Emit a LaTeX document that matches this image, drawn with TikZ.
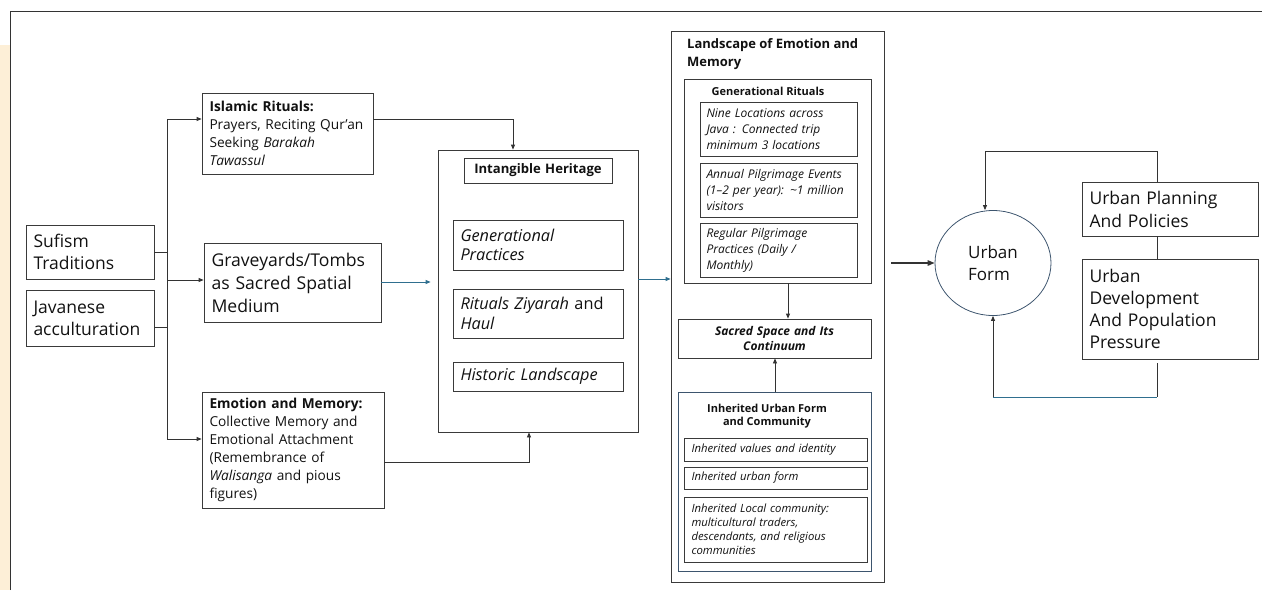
\documentclass[tikz,border=0pt]{standalone}
\usepackage{fontspec}
\setmainfont{Open Sans}
\usetikzlibrary{shapes.geometric,arrows.meta,calc}
\definecolor{boxc}{HTML}{3A3A3A}
\definecolor{linec}{HTML}{333333}
\definecolor{bluec}{HTML}{2F6F8F}
\definecolor{slatec}{HTML}{3D556E}
\definecolor{txtc}{HTML}{111111}
\definecolor{creamc}{HTML}{FDEFD7}
\newcommand{\fsz}[2]{\fontsize{#1}{#2}\selectfont}
\begin{document}
\begin{tikzpicture}[x=1pt,y=-1pt,
  box/.style={draw=boxc, line width=0.8pt, inner xsep=7.5pt, inner ysep=0pt, align=left, text=txtc},
  cbox/.style={box, align=center},
  frame/.style={draw=boxc, line width=0.8pt, inner sep=0pt},
  ln/.style={draw=linec, line width=0.8pt},
  arr/.style={ln, -{Triangle[length=5pt,width=4pt]}},
  barr/.style={draw=bluec, line width=0.8pt, -{Triangle[length=5pt,width=4pt]}},
  ttl/.style={inner sep=0pt, text=txtc}
]
\useasboundingbox (0,0) rectangle (1262,590);
% page frame and cream band
\fill[creamc] (0,45) rectangle (9.5,590);
\draw[ln] (10,590) -- (10,11) -- (1262,11);

% left sources
\node[box, minimum width=128pt, minimum height=54pt, text width=113pt, font=\fsz{17.5}{22}] (suf) at (90,252) {Sufism\\Traditions};
\node[box, minimum width=128pt, minimum height=56pt, text width=113pt, font=\fsz{17.5}{22}] (jav) at (90,318) {Javanese\\acculturation};

% middle column
\node[box, minimum width=171pt, minimum height=81pt, text width=156pt, font=\fsz{13.7}{18}] (isl) at (287.5,133.5) {\textbf{Islamic Rituals:}\\Prayers, Reciting Qur’an\\Seeking \textit{Barakah}\\\textit{Tawassul}};
\node[box, minimum width=177pt, minimum height=79pt, text width=162pt, font=\fsz{17.6}{23}] (grv) at (292.5,282.5) {Graveyards/Tombs\\as Sacred Spatial\\Medium};
\node[box, minimum width=182pt, minimum height=116pt, text width=167pt, font=\fsz{13.7}{18}] (emo) at (293,450) {\textbf{Emotion and Memory:}\\Collective Memory and\\Emotional Attachment\\(Remembrance of\\\textit{Walisanga} and pious\\figures)};

% intangible heritage
\node[frame, minimum width=200pt, minimum height=282pt] (intg) at (538,291) {};
\node[cbox, minimum width=148pt, minimum height=25pt, text width=133pt, font=\fsz{13.1}{16}\bfseries] (intt) at (538,170.5) {Intangible Heritage};
\node[box, minimum width=170pt, minimum height=50pt, text width=155pt, font=\fsz{16.3}{19.5}\itshape] (gp) at (538,245) {Generational\\Practices};
\node[box, minimum width=170pt, minimum height=49pt, text width=155pt, font=\fsz{16.3}{19.5}] (rz) at (538,313.5) {\textit{Rituals Ziyarah} and\\\textit{Haul}};
\node[box, minimum width=170pt, minimum height=29pt, text width=155pt, font=\fsz{16.3}{19.5}\itshape] (hl) at (538,376.5) {Historic Landscape};

% landscape of emotion and memory
\node[frame, minimum width=213pt, minimum height=551pt] (land) at (777.5,306.5) {};
\node[ttl, anchor=base west, align=left, font=\fsz{13}{18}\bfseries] (landt) at (687,66.5) {Landscape of Emotion and\\Memory};
\node[frame, minimum width=187pt, minimum height=204pt] (gr) at (777.5,181) {};
\node[ttl, anchor=base, font=\fsz{11}{13}\bfseries] (grt) at (768,95) {Generational Rituals};
\node[box, inner xsep=6.5pt, minimum width=157pt, minimum height=54pt, text width=144pt, font=\fsz{12}{16}\itshape] (nine) at (778.5,129) {Nine Locations across\\Java : Connected trip\\minimum 3 locations};
\node[box, inner xsep=6.5pt, minimum width=157pt, minimum height=54pt, text width=144pt, font=\fsz{12}{16}\itshape] (ann) at (778.5,190) {Annual Pilgrimage Events\\(1–2 per year): \textasciitilde1 million\\visitors};
\node[box, inner xsep=6.5pt, minimum width=157pt, minimum height=54pt, text width=144pt, font=\fsz{12}{16}\itshape] (reg) at (778.5,250) {Regular Pilgrimage\\Practices (Daily /\\Monthly)};
\node[cbox, minimum width=193pt, minimum height=39pt, text width=178pt, font=\fsz{12}{15}\bfseries\itshape] (sac) at (774.5,338.5) {Sacred Space and Its\\Continuum};
\node[draw=slatec, line width=0.8pt, inner sep=0pt, minimum width=193pt, minimum height=179pt] (inh) at (774.5,481.5) {};
\node[ttl, anchor=base, align=center, font=\fsz{11}{13.5}\bfseries] (inht) at (767,425.5) {Inherited Urban Form\\and Community};
\node[box, minimum width=183pt, minimum height=23pt, text width=168pt, font=\fsz{11.3}{14}\itshape] (iv) at (775.5,449.5) {Inherited values and identity};
\node[box, minimum width=183pt, minimum height=22pt, text width=168pt, font=\fsz{11.3}{14}\itshape] (iu) at (775.5,478) {Inherited urban form};
\node[box, minimum width=183pt, minimum height=65pt, text width=168pt, font=\fsz{11.3}{14}\itshape] (il) at (775.5,529.5) {Inherited Local community:\\multicultural traders,\\descendants, and religious\\communities};

% right side
\node[draw=slatec, line width=0.8pt, ellipse, inner sep=0pt, minimum width=116pt, minimum height=105pt, align=left, text=txtc, font=\fsz{17}{22}] (uf) at (993,263) {Urban\\Form};
\node[box, minimum width=176pt, minimum height=54pt, text width=161pt, font=\fsz{17.5}{23}] (up) at (1170,209) {Urban Planning\\And Policies};
\node[box, minimum width=176pt, minimum height=100pt, text width=161pt, font=\fsz{17.5}{22}] (ud) at (1170,309) {Urban\\Development\\And Population\\Pressure};

% helper coordinates
\coordinate (busT) at (167,119);
\coordinate (busB) at (167,439);
\coordinate (yJ) at (0,327);
\coordinate (yG) at (0,280);
\coordinate (yG2) at (0,282);
\coordinate (xI) at (513,0);
\coordinate (yE) at (0,462);
\coordinate (xE) at (529,0);
\coordinate (yL) at (0,279);
\coordinate (xS1) at (788,0);
\coordinate (xS2) at (775,0);
\coordinate (xF) at (1157,0);
\coordinate (yT) at (0,151);
\coordinate (xT) at (985,0);
\coordinate (yB) at (0,397);

% connectors left
\draw[ln] (busT) -- (busB);
\draw[ln] (suf.east) -- (suf.east -| busT);
\draw[ln] (jav.east |- yJ) -- (busT |- yJ);
\draw[arr] (busT) -- (isl.west |- busT);
\draw[arr] (busT |- yG) -- (grv.west |- yG);
\draw[arr] (busB) -- (emo.west |- busB);

% into intangible heritage
\draw[arr] (isl.east |- busT) -| (xI |- intg.north);
\draw[barr, shorten >=7pt] (grv.east |- yG2) -- (intg.west |- yG2);
\draw[arr] (emo.east |- yE) -| (xE |- intg.south);
\draw[barr] (intg.east |- yL) -- (land.west |- yL);

% inside landscape
\draw[arr] (xS1 |- gr.south) -- (xS1 |- sac.north);
\draw[arr] (xS2 |- inh.north) -- (xS2 |- sac.south);

% to urban form
\draw[ln, line width=1.3pt, -{Triangle[length=7pt,width=5.5pt]}, shorten <=7pt] (land.east |- uf.west) -- (uf.west);
\draw[arr] (xF |- up.north) -- (xF |- yT) -- (xT |- yT) -- (xT |- uf.north);
\draw[ln] (xF |- up.south) -- (xF |- ud.north);
\draw[ln, shorten <=4pt] (xF |- ud.south) -- (xF |- yB);
\draw[draw=bluec, line width=0.8pt] (xF |- yB) -- (uf.south |- yB);
\draw[arr] (uf.south |- yB) -- (uf.south);
\end{tikzpicture}
\end{document}
